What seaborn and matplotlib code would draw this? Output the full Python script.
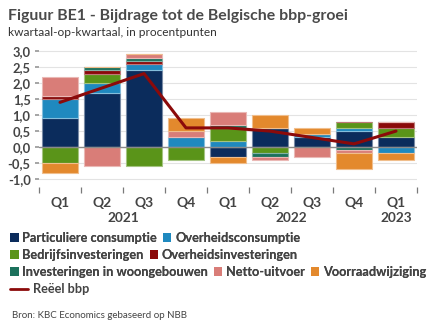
import numpy as np
import pandas as pd
import matplotlib
matplotlib.use("Agg")
import matplotlib.pyplot as plt
import matplotlib.transforms as mtransforms
from matplotlib.patches import Patch
from matplotlib.lines import Line2D
import seaborn as sns

quarters = ["Q1", "Q2", "Q3", "Q4", "Q1", "Q2", "Q3", "Q4", "Q1"]
years = ["2021", "2022", "2023"]
particuliere = [0.9, 1.7, 2.4, 0.0, -0.3, 0.6, 0.3, 0.5, 0.3]
overheidscons = [0.6, 0.3, 0.2, 0.3, 0.2, 0.0, 0.1, 0.1, -0.2]
bedrijfsinv = [-0.5, 0.3, -0.6, -0.4, 0.4, -0.2, 0.0, 0.2, 0.3]
overheidsinv = [0.1, 0.1, 0.1, 0.0, 0.0, 0.0, 0.0, 0.0, 0.2]
woning = [0.0, 0.1, 0.1, 0.0, 0.1, -0.1, 0.0, -0.1, 0.0]
netto = [0.6, -0.6, 0.1, 0.2, 0.4, -0.1, -0.3, -0.1, 0.0]
voorraad = [-0.3, 0.0, 0.0, 0.4, -0.2, 0.4, 0.2, -0.5, -0.2]
bbp = [1.4, 1.85, 2.3, 0.6, 0.6, 0.5, 0.3, 0.1, 0.5]

series_names = ["Particuliere consumptie", "Overheidsconsumptie", "Bedrijfsinvesteringen",
                "Overheidsinvesteringen", "Investeringen in woongebouwen", "Netto-uitvoer",
                "Voorraadwijziging"]
series_vals = [particuliere, overheidscons, bedrijfsinv, overheidsinv, woning, netto, voorraad]
colors = ["#0b2c5c", "#1f89bf", "#5a9419", "#8b0a0a", "#1c715c", "#d97d78", "#e3892d"]
line_color = "#8b0a0a"

sns.set_theme(style="white")
font = ["Lato", "DejaVu Sans"]
plt.rcParams["font.family"] = font
txt = "#444444"

fig = plt.figure(figsize=(4.32, 3.34), dpi=100)
ax = fig.add_axes([39 / 432, (334 - 187) / 334, 378 / 432, (187 - 49) / 334])

x = np.arange(len(quarters))
pos_base = np.zeros(len(x))
neg_base = np.zeros(len(x))


def lighten(c, f=0.45):
    r, g, b = matplotlib.colors.to_rgb(c)
    return (r + (1 - r) * f, g + (1 - g) * f, b + (1 - b) * f)


for name, vals, col in zip(series_names, series_vals, colors):
    v = np.array(vals, dtype=float)
    bottoms = np.where(v >= 0, pos_base, neg_base)
    ax.bar(x, v, bottom=bottoms, width=0.88, color=col, edgecolor=lighten(col),
           linewidth=0.8, zorder=2)
    pos_base = pos_base + np.where(v > 0, v, 0)
    neg_base = neg_base + np.where(v < 0, v, 0)

df_line = pd.DataFrame({"x": x, "bbp": bbp})
sns.lineplot(data=df_line, x="x", y="bbp", ax=ax, color=line_color, linewidth=2.2,
             zorder=4, legend=False)

ax.axhline(0, color="#8a8a8a", linewidth=1.0, zorder=3)
ax.set_xlim(-0.5, len(x) - 0.5)
ax.set_ylim(-1.25, 3.07)
yt = np.arange(-1.0, 3.01, 0.5)
ax.set_yticks(yt)
ax.set_yticklabels([f"{v:.1f}".replace(".", ",") for v in yt], fontsize=9.3,
                   fontweight="bold", color=txt)
ax.yaxis.grid(True, color="#e3e3e3", linewidth=0.8, zorder=0)
ax.tick_params(axis="y", length=3, color="#9a9a9a", pad=3, left=True)
for s in ax.spines.values():
    s.set_visible(False)

ax.set_xticks(x)
ax.set_xticklabels(quarters, fontsize=10, fontweight="bold", color=txt)
ax.tick_params(axis="x", length=0, pad=7)
ax.set_xticks(np.arange(-0.5, len(x), 1.0), minor=True)
ax.tick_params(axis="x", which="minor", length=4, color="#7a7a7a", width=0.9, bottom=True)
ax.set_xlabel("")
ax.set_ylabel("")

trans = mtransforms.blended_transform_factory(ax.transData, fig.transFigure)
for label, xc in zip(years, [1.5, 5.5, 8.0]):
    ax.text(xc, (334 - 218) / 334, label, transform=trans, ha="center", va="center",
            fontsize=9.8, fontweight="bold", color=txt)

fig.text(8 / 432, 1 - 16 / 334, "Figuur BE1 - Bijdrage tot de Belgische bbp-groei",
         fontsize=11.4, fontweight="bold", color="#4a4a4a", va="center", ha="left")
fig.text(8 / 432, 1 - 33 / 334, "kwartaal-op-kwartaal, in procentpunten",
         fontsize=8.6, color="#333333", va="center", ha="left")

handles = [Patch(facecolor=c, edgecolor="none") for c in colors]
rows = [[0, 1], [2, 3], [4, 5, 6]]
row_y = [238, 255, 272]
for r, yy in zip(rows, row_y):
    leg = fig.legend([handles[i] for i in r], [series_names[i] for i in r],
                     loc="center left", bbox_to_anchor=(9 / 432, 1 - yy / 334),
                     ncol=len(r), frameon=False, fontsize=9.2, handlelength=0.65,
                     handleheight=0.65, handletextpad=0.3, columnspacing=0.45,
                     borderaxespad=0, borderpad=0.1)
    for t in leg.get_texts():
        t.set_fontweight("bold")
        t.set_color(txt)
    fig.add_artist(leg)

leg = fig.legend([Line2D([0], [0], color=line_color, linewidth=2)], ["Reëel bbp"],
                 loc="center left", bbox_to_anchor=(9 / 432, 1 - 289 / 334),
                 frameon=False, fontsize=9.2, handlelength=1.4, handletextpad=0.4,
                 borderaxespad=0, borderpad=0.1)
for t in leg.get_texts():
    t.set_fontweight("bold")
    t.set_color(txt)

fig.text(12 / 432, 1 - 316 / 334, "Bron: KBC Economics gebaseerd op NBB",
         fontsize=7, color="#444444", va="center", ha="left")

fig.savefig("out.png", dpi=100)
